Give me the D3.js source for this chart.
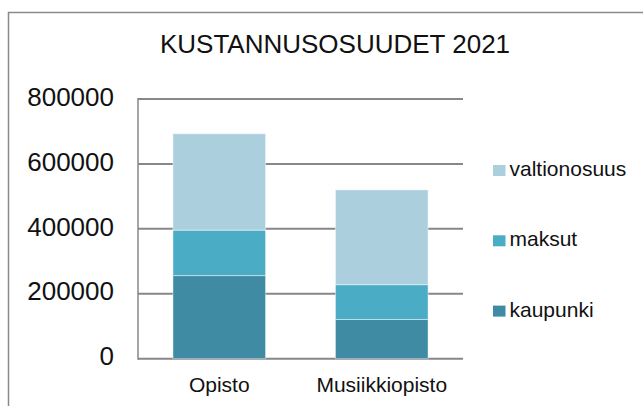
<!DOCTYPE html>
<html>
<head>
<meta charset="utf-8">
<script src="https://cdn.jsdelivr.net/npm/d3@7"></script>
<style>
  html, body { margin: 0; padding: 0; background: #fff; }
  svg { display: block; font-family: "Liberation Sans", Arial, sans-serif; }
</style>
</head>
<body>
<svg id="chart" width="643" height="406"></svg>
<script>
// Cost shares 2021, stacked by funding source
const categories = ["Opisto", "Musiikkiopisto"];
const kaupunki = [256000, 121000];
const maksut = [140000, 107000];
const valtionosuus = [297000, 292000];
const seriesNames = ["kaupunki", "maksut", "valtionosuus"];
const yTicks = [0, 200000, 400000, 600000, 800000];
const colors = { kaupunki: "#3e8ba3", maksut: "#4bacc6", valtionosuus: "#abcfdd" };

const rows = categories.map((c, i) => ({
  cat: c, kaupunki: kaupunki[i], maksut: maksut[i], valtionosuus: valtionosuus[i]
}));
const stacked = d3.stack().keys(seriesNames)(rows);

const svg = d3.select("#chart");
const plot = { left: 138, right: 463, top: 99, bottom: 358.7 };

// outer frame
svg.append("rect")
  .attr("x", 8.5).attr("y", 12.5)
  .attr("width", 700).attr("height", 500)
  .attr("fill", "none").attr("stroke", "#8a8a8a").attr("stroke-width", 1.5);

svg.append("text")
  .attr("x", 335).attr("y", 52.5)
  .attr("text-anchor", "middle")
  .attr("font-size", 26).attr("fill", "#111")
  .text("KUSTANNUSOSUUDET 2021");

const x = d3.scaleBand().domain(categories)
  .range([plot.left, plot.right])
  .paddingInner(0.43).paddingOuter(0.215);
const y = d3.scaleLinear().domain([0, 800000]).range([plot.bottom, plot.top]);

// horizontal gridlines
svg.append("g").selectAll("line").data(yTicks).join("line")
  .attr("x1", plot.left).attr("x2", plot.right)
  .attr("y1", d => y(d)).attr("y2", d => y(d))
  .attr("stroke", "#878787").attr("stroke-width", 2);

// vertical axis line
svg.append("line")
  .attr("x1", plot.left).attr("x2", plot.left)
  .attr("y1", y(800000) - 1).attr("y2", y(0) + 1)
  .attr("stroke", "#878787").attr("stroke-width", 1.5);

// y tick labels
svg.append("g").selectAll("text").data(yTicks).join("text")
  .attr("x", 114).attr("y", d => y(d) + 6.7)
  .attr("text-anchor", "end")
  .attr("font-size", 26).attr("fill", "#111")
  .text(d => d3.format("d")(d));

// stacked bars
svg.append("g").selectAll("g").data(stacked).join("g")
  .attr("fill", d => colors[d.key])
  .selectAll("rect").data(d => d).join("rect")
  .attr("x", d => x(d.data.cat))
  .attr("width", x.bandwidth())
  .attr("y", d => y(d[1]))
  .attr("height", d => y(d[0]) - y(d[1]))
  .attr("stroke", "#ffffff").attr("stroke-opacity", 0.45).attr("stroke-width", 1);

// category labels
svg.append("g").selectAll("text").data(categories).join("text")
  .attr("x", d => x(d) + x.bandwidth() / 2)
  .attr("y", 391.5)
  .attr("text-anchor", "middle")
  .attr("font-size", 21).attr("fill", "#111")
  .text(d => d);

// legend (top entry is the top stack segment)
const legendOrder = ["valtionosuus", "maksut", "kaupunki"];
const leg = svg.append("g").selectAll("g").data(legendOrder).join("g")
  .attr("transform", (d, i) => `translate(493, ${176 + i * 70.3})`);
leg.append("rect")
  .attr("x", 0).attr("y", -11).attr("width", 12.5).attr("height", 11)
  .attr("fill", d => colors[d]);
leg.append("text")
  .attr("x", 16.5).attr("y", 0)
  .attr("font-size", 21).attr("fill", "#111")
  .text(d => d);
</script>
</body>
</html>
